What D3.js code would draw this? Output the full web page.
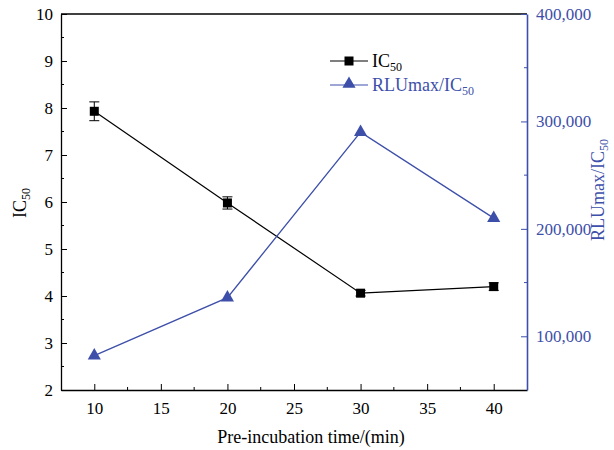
<!DOCTYPE html>
<html><head><meta charset="utf-8">
<script src="https://cdn.jsdelivr.net/npm/d3@7"></script>
<style>body{margin:0;background:#fff;}</style>
</head><body><svg id="c" width="614" height="450" font-family="Liberation Serif"></svg>
<script>
const times = [10, 20, 30, 40];
const ic50 = [7.93, 5.98, 4.06, 4.2];
const ic50Err = [0.2, 0.13, 0.06, 0.08];
const rlu = [82000, 136000, 290000, 210000];
const xTicks = [10, 15, 20, 25, 30, 35, 40];
const yLeftTicks = [2, 3, 4, 5, 6, 7, 8, 9, 10];
const yRightTicks = [100000, 200000, 300000, 400000];
const blue = "#3d4fa9";
const FF = "Liberation Serif";

const svg = d3.select("#c");
const L = 61, R = 527, T = 14, B = 390;
const x = d3.scaleLinear().domain([7.5, 42.5]).range([L, R]);
const yL = d3.scaleLinear().domain([2, 10]).range([B, T]);
const yR = d3.scaleLinear().domain([50000, 400000]).range([B, T]);

svg.append("line").attr("x1", L).attr("x2", R).attr("y1", T).attr("y2", T).attr("stroke", "#000").attr("stroke-width", 1.3);

const xAxis = svg.append("g").attr("transform", `translate(0,${B})`)
  .call(d3.axisBottom(x).tickValues(xTicks).tickSize(-6).tickSizeOuter(0).tickPadding(12));
xAxis.attr("font-family", FF).attr("font-size", 17);
xAxis.selectAll(".tick line").attr("stroke", "#000");
xAxis.select(".domain").attr("stroke", "#000").attr("stroke-width", 1.3);
xAxis.selectAll("text").attr("fill", "#000");
svg.append("g").attr("transform", `translate(0,${B})`)
  .selectAll("line").data(d3.range(12.5, 42, 5)).join("line")
  .attr("x1", d => x(d)).attr("x2", d => x(d)).attr("y1", 0).attr("y2", -3).attr("stroke", "#000");

const yAxisL = svg.append("g").attr("transform", `translate(${L},0)`)
  .call(d3.axisLeft(yL).tickValues(yLeftTicks).tickSize(-6).tickSizeOuter(0).tickPadding(8));
yAxisL.attr("font-family", FF).attr("font-size", 17);
yAxisL.select(".domain").attr("stroke", "#000").attr("stroke-width", 1.3);
yAxisL.selectAll(".tick line").attr("stroke", "#000");
yAxisL.selectAll("text").attr("fill", "#000");
svg.append("g").attr("transform", `translate(${L},0)`)
  .selectAll("line").data(d3.range(2.5, 10, 1)).join("line")
  .attr("x1", 0).attr("x2", 3).attr("y1", d => yL(d)).attr("y2", d => yL(d)).attr("stroke", "#000");

const yAxisR = svg.append("g").attr("transform", `translate(${R},0)`)
  .call(d3.axisRight(yR).tickValues(yRightTicks).tickSize(-6).tickSizeOuter(0).tickPadding(9).tickFormat(d3.format(",")));
yAxisR.attr("font-family", FF).attr("font-size", 17);
yAxisR.select(".domain").attr("stroke", blue).attr("stroke-width", 1.6);
yAxisR.selectAll(".tick line").attr("stroke", blue);
yAxisR.selectAll("text").attr("fill", blue);
svg.append("g").attr("transform", `translate(${R},0)`)
  .selectAll("line").data([150000, 250000, 350000]).join("line")
  .attr("x1", 0).attr("x2", -3).attr("y1", d => yR(d)).attr("y2", d => yR(d)).attr("stroke", blue);

svg.append("text").attr("x", 311).attr("y", 443).attr("text-anchor", "middle").attr("font-size", 18).text("Pre-incubation time/(min)");
const tl = svg.append("text").attr("transform", "translate(26,203) rotate(-90)").attr("text-anchor", "middle").attr("font-size", 18);
tl.append("tspan").text("IC");
tl.append("tspan").attr("font-size", 12).attr("dy", 4).text("50");
const tr = svg.append("text").attr("transform", "translate(604,190) rotate(-90)").attr("text-anchor", "middle").attr("font-size", 18).attr("fill", blue);
tr.append("tspan").text("RLUmax/IC");
tr.append("tspan").attr("font-size", 12).attr("dy", 4).text("50");

const dataIC = times.map((t, i) => ({t, v: ic50[i], e: ic50Err[i]}));
svg.append("path").datum(dataIC).attr("fill", "none").attr("stroke", "#000").attr("stroke-width", 1.2)
  .attr("d", d3.line().x(d => x(d.t)).y(d => yL(d.v)));
const eb = svg.append("g").selectAll("g").data(dataIC).join("g").attr("stroke", "#000").attr("stroke-width", 1);
eb.append("line").attr("x1", d => x(d.t)).attr("x2", d => x(d.t)).attr("y1", d => yL(d.v + d.e)).attr("y2", d => yL(d.v - d.e));
eb.append("line").attr("x1", d => x(d.t) - 5).attr("x2", d => x(d.t) + 5).attr("y1", d => yL(d.v + d.e)).attr("y2", d => yL(d.v + d.e));
eb.append("line").attr("x1", d => x(d.t) - 5).attr("x2", d => x(d.t) + 5).attr("y1", d => yL(d.v - d.e)).attr("y2", d => yL(d.v - d.e));
svg.append("g").selectAll("rect").data(dataIC).join("rect")
  .attr("x", d => x(d.t) - 4.5).attr("y", d => yL(d.v) - 4.5).attr("width", 9).attr("height", 9).attr("fill", "#000");

const dataR = times.map((t, i) => ({t, v: rlu[i]}));
svg.append("path").datum(dataR).attr("fill", "none").attr("stroke", blue).attr("stroke-width", 1.3)
  .attr("d", d3.line().x(d => x(d.t)).y(d => yR(d.v)));
const tri = d3.symbol().type(d3.symbolTriangle).size(75);
svg.append("g").selectAll("path").data(dataR).join("path")
  .attr("transform", d => `translate(${x(d.t)},${yR(d.v)})`).attr("d", tri).attr("fill", blue);

const lg = svg.append("g");
lg.append("line").attr("x1", 330).attr("x2", 368).attr("y1", 61).attr("y2", 61).attr("stroke", "#000").attr("stroke-width", 1.2);
lg.append("rect").attr("x", 344.5).attr("y", 56.5).attr("width", 9).attr("height", 9).attr("fill", "#000");
const t1 = lg.append("text").attr("x", 372).attr("y", 67).attr("font-size", 18);
t1.append("tspan").text("IC");
t1.append("tspan").attr("font-size", 12).attr("dy", 4).text("50");
lg.append("line").attr("x1", 330).attr("x2", 368).attr("y1", 85).attr("y2", 85).attr("stroke", blue).attr("stroke-width", 1.2);
lg.append("path").attr("transform", "translate(349,84)").attr("d", tri).attr("fill", blue);
const t2 = lg.append("text").attr("x", 372).attr("y", 91).attr("font-size", 18).attr("fill", blue);
t2.append("tspan").text("RLUmax/IC");
t2.append("tspan").attr("font-size", 12).attr("dy", 4).text("50");
</script></body></html>
